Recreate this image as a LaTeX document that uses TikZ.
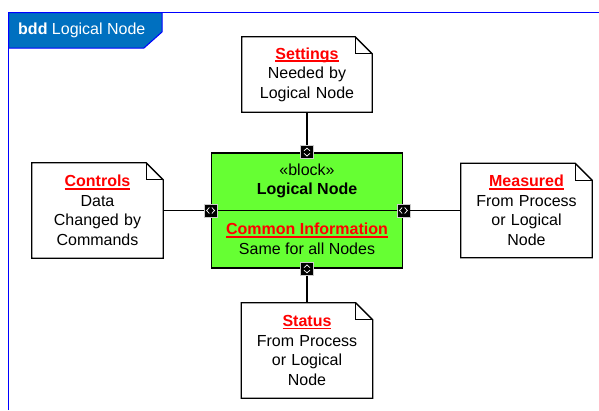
\documentclass[tikz,border=0pt]{standalone}
\usepackage{fontspec}
\setmainfont{Liberation Sans}
\definecolor{frameblue}{RGB}{0,0,255}
\definecolor{tabblue}{RGB}{0,112,192}
\definecolor{blockgreen}{RGB}{102,255,51}
\definecolor{titlered}{RGB}{255,0,0}
% bold red title with a heavy underline
\newcommand{\ultitle}[1]{{\color{titlered}\bfseries\setbox0=\hbox{#1}\rlap{\rule[-2.6pt]{\wd0}{1.4pt}}\box0}}
% outline of a note with a folded top-right corner
\newcommand{\dogear}[1]{%
  \draw[noteline] (#1.north west) -- ([xshift=-17pt]#1.north east) -- ([yshift=-17pt]#1.north east)
    -- (#1.south east) -- (#1.south west) -- cycle;
  \draw[noteline] ([xshift=-17pt]#1.north east) -- ([xshift=-17pt,yshift=-17pt]#1.north east)
    -- ([yshift=-17pt]#1.north east);}
\tikzset{
  base/.style={font=\fontsize{16}{19.5}\selectfont},
  note/.style={base, rectangle, inner sep=0pt, align=center, minimum width=131pt,
    minimum height=95pt, text width=128pt},
  noteline/.style={draw=black, line width=1.3pt, line join=miter},
  block/.style={rectangle, draw=black, line width=1.8pt, fill=blockgreen,
    minimum width=191pt, minimum height=115pt, inner sep=0pt},
  port/.style={rectangle, fill=black, draw=black!20, line width=0.6pt,
    minimum size=13pt, inner sep=0pt},
  chev/.style={draw=white, line width=0.7pt},
  portv/.style={port, path picture={
    \coordinate (pc) at (path picture bounding box.center);
    \draw[chev] ([shift={(-3pt,1.2pt)}]pc) -- ([shift={(0pt,4pt)}]pc) -- ([shift={(3pt,1.2pt)}]pc)
      ([shift={(-3pt,-1.2pt)}]pc) -- ([shift={(0pt,-4pt)}]pc) -- ([shift={(3pt,-1.2pt)}]pc);}},
  porth/.style={port, path picture={
    \coordinate (pc) at (path picture bounding box.center);
    \draw[chev] ([shift={(-1.2pt,3pt)}]pc) -- ([shift={(-4pt,0pt)}]pc) -- ([shift={(-1.2pt,-3pt)}]pc)
      ([shift={(1.2pt,3pt)}]pc) -- ([shift={(4pt,0pt)}]pc) -- ([shift={(1.2pt,-3pt)}]pc);}},
  conn/.style={draw=black, line width=1.2pt},
}
\begin{document}
\begin{tikzpicture}[x=1pt, y=-1pt]
\useasboundingbox (0,0) rectangle (599,410);
\fill[white] (0,0) rectangle (599,410);

% diagram frame and its name tab
\draw[frameblue, line width=1.5pt] (8.5,410) -- (8.5,12.5) -- (599,12.5);
\filldraw[fill=tabblue, draw=frameblue, line width=1pt]
  (8.5,12.5) -- (162,12.5) -- (162,32) -- (144,48) -- (8.5,48) -- cycle;
\node[base, text=white, anchor=west, inner sep=0pt] (frametitle) at (18,30.5)
  {\textbf{bdd} Logical Node};

% central block
\node[block] (block) at (307,210.5) {};
\draw[line width=1pt] (block.west) -- (block.east);
\node[base, align=center, inner sep=0pt, font=\fontsize{16}{18.5}\selectfont] (blockhead)
  at ([yshift=29.5pt]block.center) {«block»\\\textbf{Logical Node}};
\node[base, align=center, inner sep=0pt] (blockbody)
  at ([yshift=-28.5pt]block.center) {\ultitle{Common Information}\\Same for all Nodes};

% ports on the block
\node[portv] (ptop) at (block.north) {};
\node[portv] (pbot) at (block.south) {};
\node[porth] (pleft) at (block.west) {};
\node[porth] (pright) at (block.east) {};

% notes
\node[note, minimum width=130pt, minimum height=75pt] (settings) at (307,74.5)
  {\ultitle{Settings}\\Needed by\\Logical Node};
\dogear{settings}
\node[note] (controls) at (97.5,210.5)
  {\ultitle{Controls}\\Data\\Changed by\\Commands};
\dogear{controls}
\node[note, minimum height=94pt] (measured) at (526.5,210.5)
  {\ultitle{Measured}\\From Process\\or Logical\\Node};
\dogear{measured}
\node[note] (status) at (307,350.5)
  {\ultitle{Status}\\From Process\\or Logical\\Node};
\dogear{status}

% connectors from notes to ports
\draw[conn] (settings) -- (ptop);
\draw[conn] (status) -- (pbot);
\draw[conn] (controls) -- (pleft);
\draw[conn] (measured) -- (pright);
\end{tikzpicture}
\end{document}
